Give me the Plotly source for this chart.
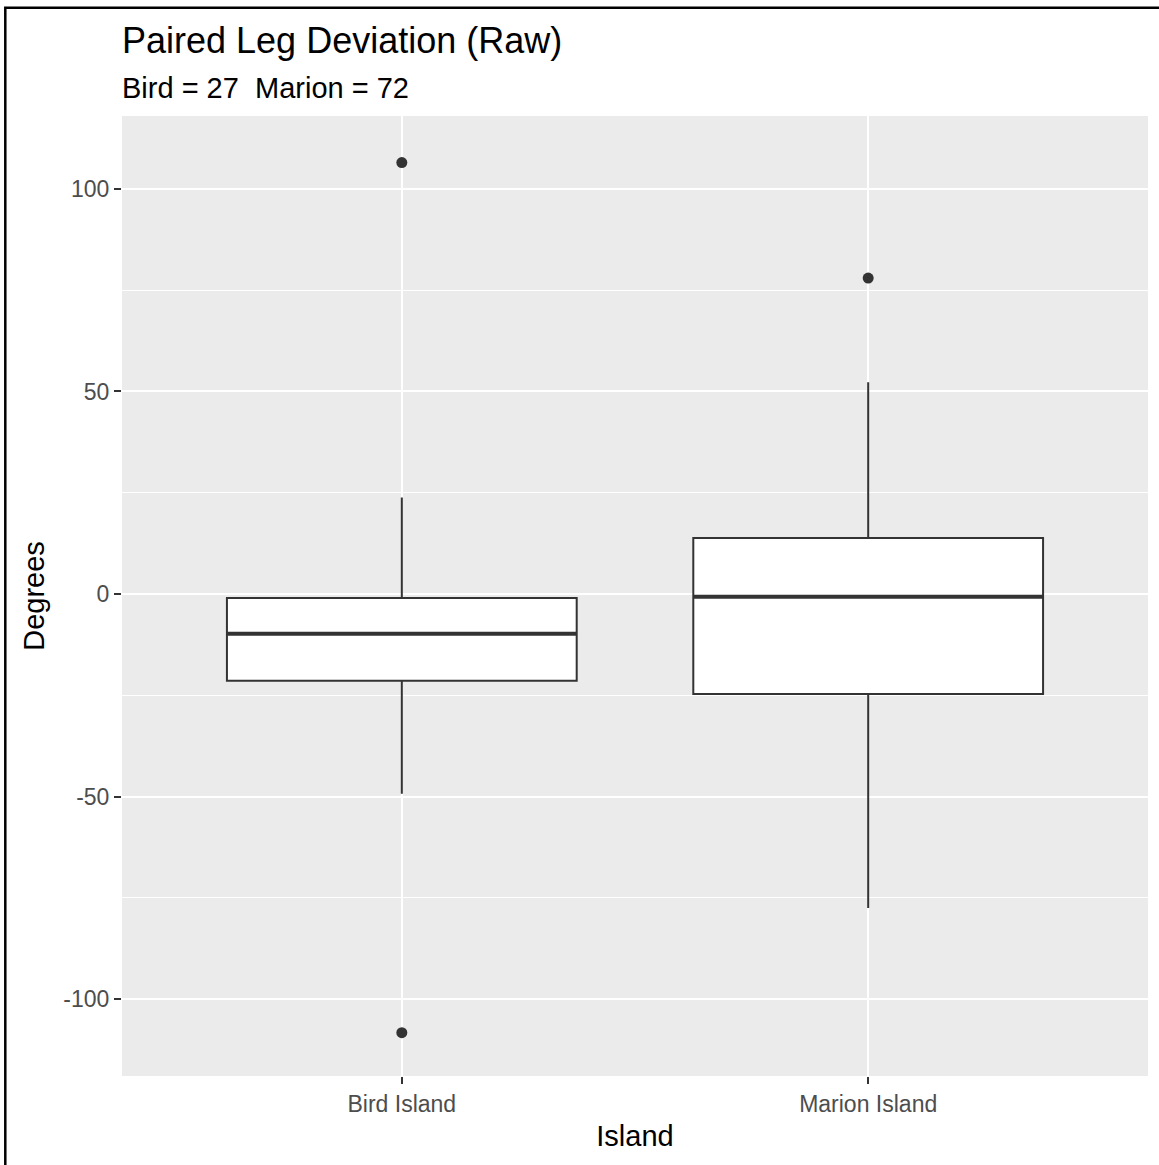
import plotly.graph_objects as go

# ---- data ----
islands = ["Bird Island", "Marion Island"]
q1 = [-21.4, -24.7]
medians = [-9.8, -0.7]
q3 = [-1.0, 13.8]
lower_whisker = [-49.3, -77.5]
upper_whisker = [23.8, 52.3]
outlier_island = [1, 1, 2]
outlier_values = [106.5, -108.3, 78.0]
y_ticks = [-100, -50, 0, 50, 100]
y_tick_labels = ["-100", "-50", "0", "50", "100"]

W, H = 1159, 1165
ML, MR, MT, MB = 122, 11, 116, 89
BOX_W = 0.75
LINE = "#333333"

fig = go.Figure()
for i, name in enumerate(islands):
    xpos = i + 1
    fig.add_trace(go.Box(
        x=[xpos], q1=[q1[i]], median=[medians[i]], q3=[q3[i]],
        lowerfence=[lower_whisker[i]], upperfence=[upper_whisker[i]],
        width=BOX_W, whiskerwidth=0, boxpoints=False,
        fillcolor="white", line=dict(color=LINE, width=2),
        name=name, showlegend=False, hoverinfo="skip",
    ))
    # thicker median line like ggplot
    fig.add_trace(go.Scatter(
        x=[xpos - BOX_W / 2, xpos + BOX_W / 2], y=[medians[i], medians[i]],
        mode="lines", line=dict(color=LINE, width=4),
        showlegend=False, hoverinfo="skip",
    ))

fig.add_trace(go.Scatter(
    x=outlier_island, y=outlier_values, mode="markers",
    marker=dict(color=LINE, size=11), showlegend=False, hoverinfo="skip",
))

plot_h = H - MT - MB
plot_w = W - ML - MR

def py(pix):
    return (H - MB - pix) / plot_h

def px(pix):
    return (pix - ML) / plot_w

fig.update_layout(
    width=W, height=H,
    margin=dict(l=ML, r=MR, t=MT, b=MB, pad=0),
    paper_bgcolor="white", plot_bgcolor="#EBEBEB",
    font=dict(family="Liberation Sans, Arial, sans-serif", color="#4D4D4D"),
    xaxis=dict(
        range=[0.4, 2.6], tickvals=[1, 2], ticktext=islands,
        showgrid=True, gridcolor="white", gridwidth=2, zeroline=False,
        ticks="outside", ticklen=7, tickwidth=2, tickcolor=LINE,
        tickfont=dict(size=23, color="#4D4D4D"),
        title=dict(text="Island", font=dict(size=29, color="black"), standoff=10),
        showline=False,
    ),
    yaxis=dict(
        range=[-119.0, 118.0], tickvals=y_ticks, ticktext=y_tick_labels,
        showgrid=True, gridcolor="white", gridwidth=2, zeroline=False,
        ticks="outside", ticklen=7, tickwidth=2, tickcolor=LINE,
        tickfont=dict(size=23, color="#4D4D4D"),
        minor=dict(showgrid=True, gridcolor="white", gridwidth=1, dtick=25, tick0=0),
        title=dict(text="Degrees", font=dict(size=29, color="black"), standoff=10),
        showline=False,
    ),
    annotations=[
        dict(text="Paired Leg Deviation (Raw)", xref="paper", yref="paper",
             x=px(120), y=py(40), xanchor="left", yanchor="middle", showarrow=False,
             font=dict(size=36, color="black")),
        dict(text="Bird = 27  Marion = 72", xref="paper", yref="paper",
             x=px(120), y=py(88), xanchor="left", yanchor="middle", showarrow=False,
             font=dict(size=29, color="black")),
    ],
    shapes=[
        dict(type="rect", xref="paper", yref="paper",
             x0=px(5.3), x1=px(W + 20), y0=py(H + 20), y1=py(7.8),
             line=dict(color="black", width=2.5), fillcolor="rgba(0,0,0,0)", layer="above"),
    ],
)

fig.write_html("out.html")
